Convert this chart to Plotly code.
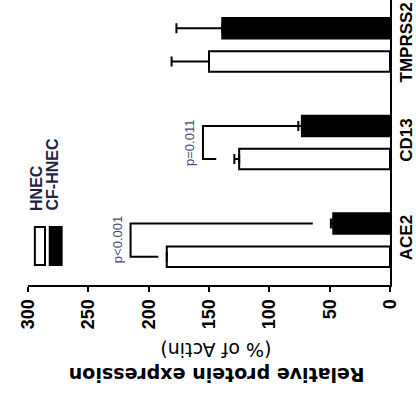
import plotly.graph_objects as go

categories = ["ACE2", "CD13", "TMPRSS2"]
hnec = [185, 125, 150]
hnec_err = [0, 4, 31]
cf_hnec = [47, 73, 139]
cf_hnec_err = [2, 3, 38]
x_ticks = [0, 50, 100, 150, 200, 250, 300]
p_labels = ["p<0.001", "p=0.011"]
bracket_top = [215, 155]
bracket_end_hnec = [192, 144]
bracket_end_cf = [64, 76]

OFF = 0.17
BW = 0.21
FONT = "Liberation Sans"
WIDE = "DejaVu Sans"
idx = list(range(len(categories)))

fig = go.Figure()
fig.add_trace(go.Bar(
    x=hnec, y=[i - OFF for i in idx], orientation="h", width=BW, name="HNEC",
    marker=dict(color="white", line=dict(color="black", width=2)),
    error_x=dict(type="data", symmetric=False, array=hnec_err, arrayminus=[0] * 3,
                 color="black", thickness=2, width=5),
))
fig.add_trace(go.Bar(
    x=cf_hnec, y=[i + OFF for i in idx], orientation="h", width=BW, name="CF-HNEC",
    marker=dict(color="black", line=dict(color="black", width=2)),
    error_x=dict(type="data", symmetric=False, array=cf_hnec_err, arrayminus=[0] * 3,
                 color="black", thickness=2, width=5),
))

shapes = []
annotations = []
for i, p in enumerate(p_labels):
    path = (f"M {bracket_end_cf[i]},{i + OFF} L {bracket_top[i]},{i + OFF} "
            f"L {bracket_top[i]},{i - OFF} L {bracket_end_hnec[i]},{i - OFF}")
    shapes.append(dict(type="path", path=path, xref="x", yref="y",
                       line=dict(color="black", width=2)))
    annotations.append(dict(x=bracket_top[i], y=i, xref="x", yref="y", text=p,
                            textangle=-90, showarrow=False, xanchor="right",
                            yanchor="middle", xshift=-4,
                            font=dict(family=FONT, size=13, color="#44507a")))

# manual legend
shapes.append(dict(type="rect", xref="paper", yref="paper", x0=0.019, x1=0.047,
                   y0=0.07, y1=0.2035, fillcolor="white", line=dict(color="black", width=2)))
shapes.append(dict(type="rect", xref="paper", yref="paper", x0=0.060, x1=0.093,
                   y0=0.07, y1=0.2035, fillcolor="black", line=dict(color="black", width=2)))
annotations.append(dict(x=0.025, y=0.253, xref="paper", yref="paper", text="<b>HNEC</b>",
                        textangle=-90, showarrow=False, xanchor="center", yanchor="bottom",
                        font=dict(family=FONT, size=16, color="#222244")))
annotations.append(dict(x=0.068, y=0.253, xref="paper", yref="paper", text="<b>CF-HNEC</b>",
                        textangle=-90, showarrow=False, xanchor="center", yanchor="bottom",
                        font=dict(family=FONT, size=16, color="#222244")))
# axis title (rotated 180)
annotations.append(dict(x=0.52, y=-0.318, xref="paper", yref="paper",
                        text="<b>Relative protein expression</b>",
                        textangle=180, showarrow=False, xanchor="center", yanchor="middle",
                        font=dict(family=WIDE, size=19, color="black")))
annotations.append(dict(x=0.52, y=-0.228, xref="paper", yref="paper",
                        text="(% of Actin)",
                        textangle=180, showarrow=False, xanchor="center", yanchor="middle",
                        font=dict(family=WIDE, size=19, color="black")))

fig.update_layout(
    width=416, height=403,
    margin=dict(l=28, r=23, t=0, b=118),
    plot_bgcolor="white", paper_bgcolor="white",
    barmode="overlay", showlegend=False,
    shapes=shapes, annotations=annotations,
    font=dict(family=FONT, color="black"),
    xaxis=dict(range=[300, 0], tickvals=x_ticks, ticktext=[str(v) for v in x_ticks],
               tickangle=-90, showline=True, linecolor="black", linewidth=2,
               ticks="outside", ticklen=5, tickwidth=2, tickcolor="black",
               showgrid=False, zeroline=False,
               tickfont=dict(family=FONT, size=18, weight="bold")),
    yaxis=dict(range=[-0.46, 2.46], tickvals=idx, ticktext=categories, side="right",
               tickangle=-90, showline=True, linecolor="black", linewidth=2,
               ticks="", showgrid=False, zeroline=False, ticklabeloverflow="allow",
               tickfont=dict(family=FONT, size=17, weight="bold")),
)

fig.write_html("out.html")
